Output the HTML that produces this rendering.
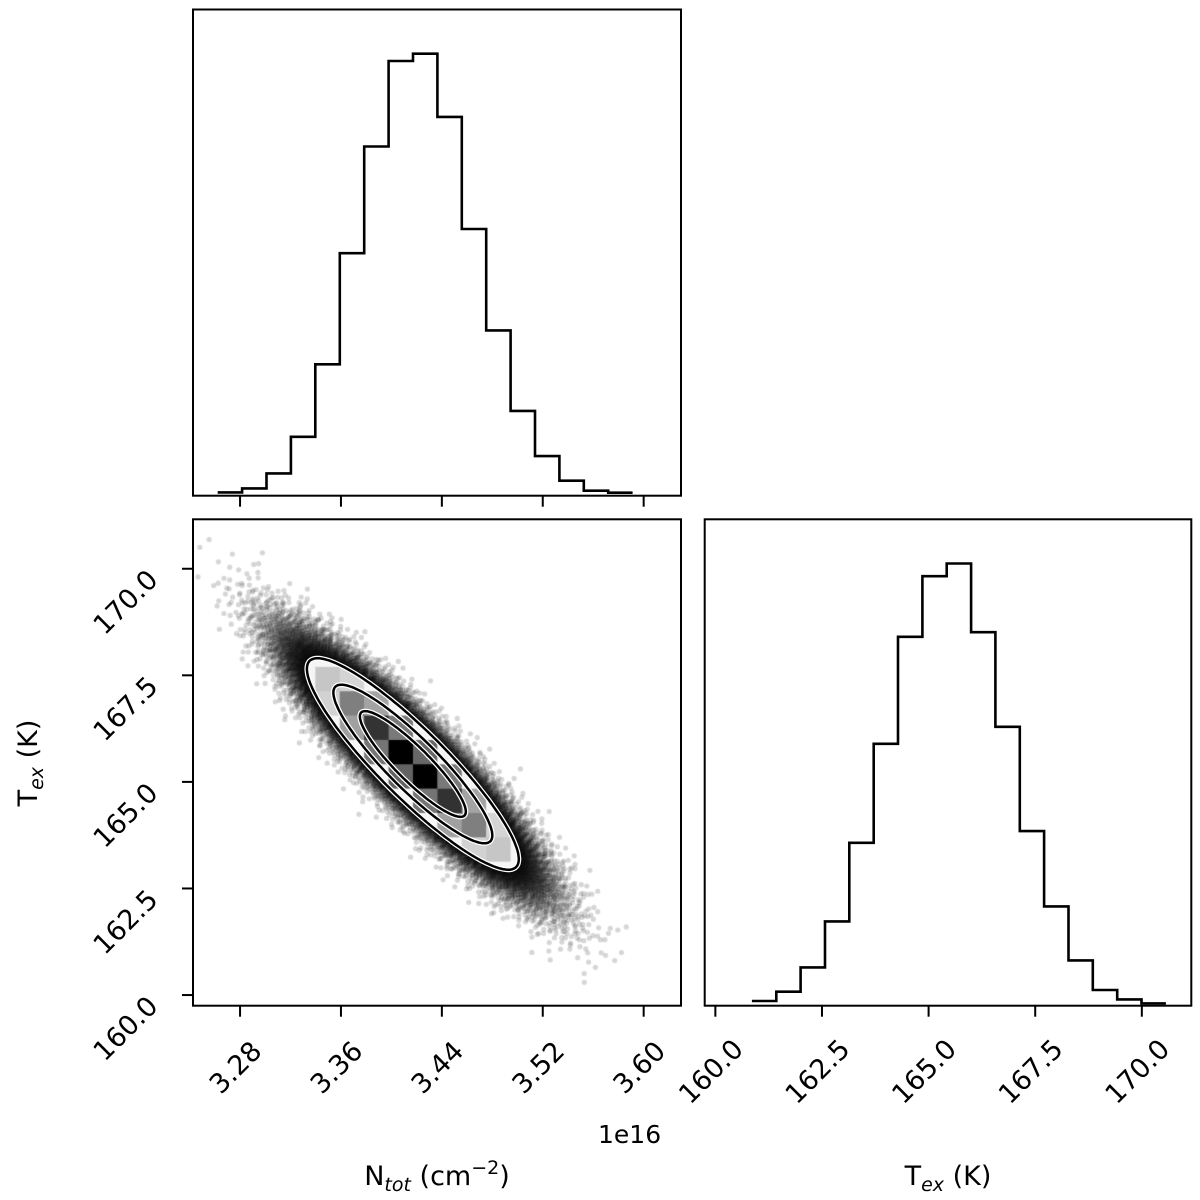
<!DOCTYPE html>
<html><head><meta charset="utf-8"><style>
html,body{margin:0;padding:0;background:#fff;}
#wrap{position:relative;width:1200px;height:1200px;overflow:hidden;}
canvas,svg{position:absolute;left:0;top:0;}
text{font-family:"DejaVu Sans","Liberation Sans",sans-serif;fill:#000;}
</style></head><body>
<div id="wrap">
<canvas id="cv" width="1200" height="1200"></canvas>
<svg id="sv" width="1200" height="1200"></svg>
</div>
<script>
// ---- data ----
const nTicks = [3.28, 3.36, 3.44, 3.52, 3.60];
const nTickLabels = ["3.28","3.36","3.44","3.52","3.60"];
const tTicks = [160.0, 162.5, 165.0, 167.5, 170.0];
const tTickLabels = ["160.0","162.5","165.0","167.5","170.0"];
const nBinStart = [3.2623];
const nBinWidth = [0.01935];
const nCounts = [10,22,67,177,395,729,1050,1307,1329,1139,802,497,255,119,45,15,9];
const tBinStart = [160.857];
const tBinWidth = [0.571];
const tCounts = [14,42,115,253,489,786,1107,1289,1327,1121,837,524,298,136,47,19,7];
const nMean = [3.417];
const tMean = [165.42];
const nSd = [0.042];
const tSd = [1.24];
const rho = [-0.90];
const sigmaLevels = [2.0, 1.5, 1.0];

// ---- layout ----
const P = {
  top: {x0:193, x1:681, y0:9.5, y1:495.7},
  bl:  {x0:193, x1:681, y0:519.3, y1:1005.7},
  br:  {x0:704.7, x1:1191.3, y0:519.3, y1:1005.7}
};
const nMin = 3.2427, nMax = 3.6296;
const tMin = 159.75, tMax = 171.16;
const xN = v => P.bl.x0 + (v - nMin) / (nMax - nMin) * (P.bl.x1 - P.bl.x0);
const yT = v => P.bl.y1 - (v - tMin) / (tMax - tMin) * (P.bl.y1 - P.bl.y0);
const xT = v => P.br.x0 + (v - tMin) / (tMax - tMin) * (P.br.x1 - P.br.x0);

const NS = "http://www.w3.org/2000/svg";
const sv = document.getElementById('sv');
function mk(tag, attrs, parent){
  const e = document.createElementNS(NS, tag);
  for (const k in attrs) e.setAttribute(k, attrs[k]);
  (parent||sv).appendChild(e);
  return e;
}

// ---- canvas: scatter + density ----
const cv = document.getElementById('cv');
const ctx = cv.getContext('2d');
function halton(i, b){ let f=1, r=0; while(i>0){ f/=b; r+=f*(i%b); i=Math.floor(i/b);} return r; }
ctx.save();
ctx.beginPath(); ctx.rect(P.bl.x0, P.bl.y0, P.bl.x1-P.bl.x0, P.bl.y1-P.bl.y0); ctx.clip();
ctx.fillStyle = 'rgba(0,0,0,0.16)';
const NPTS = 60000;
const r0 = rho[0], sq = Math.sqrt(1 - r0*r0);
for (let i = 1; i <= NPTS; i++){
  const u1 = halton(i, 2), u2 = halton(i, 3);
  const rad = Math.sqrt(-2*Math.log(Math.max(u1,1e-9)));
  const z1 = rad*Math.cos(2*Math.PI*u2), z2 = rad*Math.sin(2*Math.PI*u2);
  const nv = nMean[0] + nSd[0]*z1;
  const tv = tMean[0] + tSd[0]*(r0*z1 + sq*z2);
  ctx.beginPath(); ctx.arc(xN(nv), yT(tv), 2.6, 0, 2*Math.PI); ctx.fill();
}
function ellipsePts(s){
  const pts = [];
  for (let k = 0; k <= 180; k++){
    const a = 2*Math.PI*k/180;
    const z1 = s*Math.cos(a), z2 = s*Math.sin(a);
    const nv = nMean[0] + nSd[0]*z1;
    const tv = tMean[0] + tSd[0]*(r0*z1 + sq*z2);
    pts.push([xN(nv), yT(tv)]);
  }
  return pts;
}
const outer = ellipsePts(sigmaLevels[0]);
ctx.beginPath(); outer.forEach((p,i)=> i?ctx.lineTo(p[0],p[1]):ctx.moveTo(p[0],p[1])); ctx.closePath();
ctx.fillStyle = '#fff'; ctx.fill();
ctx.clip();
function pdfRel(nv, tv){
  const a = (nv - nMean[0])/nSd[0], b = (tv - tMean[0])/tSd[0];
  const q = (a*a - 2*r0*a*b + b*b)/(1 - r0*r0);
  return Math.exp(-q/2);
}
for (let i = 0; i < nCounts.length; i++){
  for (let j = 0; j < tCounts.length; j++){
    const na = nBinStart[0] + i*nBinWidth[0], nb = na + nBinWidth[0];
    const ta = tBinStart[0] + j*tBinWidth[0], tb = ta + tBinWidth[0];
    const f = pdfRel((na+nb)/2, (ta+tb)/2);
    let t = (f - 0.12)/0.85; t = Math.max(0, Math.min(1, t));
    const g = Math.round(245*(1 - Math.pow(t,0.9)));
    ctx.fillStyle = `rgb(${g},${g},${g})`;
    const x0 = xN(na), x1 = xN(nb), y0 = yT(tb), y1 = yT(ta);
    ctx.fillRect(x0, y0, x1-x0+0.5, y1-y0+0.5);
  }
}
ctx.restore();

// ---- contours ----
sigmaLevels.forEach((s, k) => {
  const pts = ellipsePts(s);
  const d = 'M' + pts.map(p => p[0].toFixed(1)+','+p[1].toFixed(1)).join('L') + 'Z';
  mk('path', {d, fill:'none', stroke:'#fff', 'stroke-width':5});
  const c = mk('path', {d, fill:'none', stroke:'#000', 'stroke-width':2.5});
  
  
});

// ---- histograms ----
function histPath(counts, start, width, xf, base, top){
  const mx = Math.max(...counts) * 1.1;
  const yf = c => base - c/mx*(base - top);
  let d = '';
  counts.forEach((c, i) => {
    const xa = xf(start + i*width), xb = xf(start + (i+1)*width);
    d += (i===0 ? 'M'+xa.toFixed(1)+','+yf(c).toFixed(1) : 'L'+xa.toFixed(1)+','+yf(c).toFixed(1));
    d += 'L'+xb.toFixed(1)+','+yf(c).toFixed(1);
  });
  return d;
}
const h1 = mk('path', {d: histPath(nCounts, nBinStart[0], nBinWidth[0], xN, P.top.y1, P.top.y0), fill:'none', stroke:'#000', 'stroke-width':2.6});


const h2 = mk('path', {d: histPath(tCounts, tBinStart[0], tBinWidth[0], xT, P.br.y1, P.br.y0), fill:'none', stroke:'#000', 'stroke-width':2.6});



// ---- frames ----
[['top','frame-top-panel'],['bl','frame-scatter-panel'],['br','frame-right-panel']].forEach(([k,n]) => {
  const p = P[k];
  const r = mk('rect', {x:p.x0, y:p.y0, width:p.x1-p.x0, height:p.y1-p.y0, fill:'none', stroke:'#000', 'stroke-width':2});
  
  
});

// ---- ticks ----
const TL = 11;
nTicks.forEach(v => {
  const x = xN(v);
  mk('line', {x1:x, x2:x, y1:P.top.y1, y2:P.top.y1+TL, stroke:'#000', 'stroke-width':2});
  mk('line', {x1:x, x2:x, y1:P.bl.y1, y2:P.bl.y1+TL, stroke:'#000', 'stroke-width':2});
});
tTicks.forEach(v => {
  const y = yT(v);
  mk('line', {x1:P.bl.x0-TL, x2:P.bl.x0, y1:y, y2:y, stroke:'#000', 'stroke-width':2});
  const x = xT(v);
  mk('line', {x1:x, x2:x, y1:P.br.y1, y2:P.br.y1+TL, stroke:'#000', 'stroke-width':2});
});

// ---- tick labels ----
const FS = 27;
function rotLabel(txt, cx, cy, name){
  const t = mk('text', {transform:`translate(${cx.toFixed(1)},${cy.toFixed(1)}) rotate(-45)`, 'text-anchor':'middle', 'dominant-baseline':'central', 'font-size':FS});
  t.textContent = txt;
  
  
}
nTicks.forEach((v, i) => {
  rotLabel(nTickLabels[i], xN(v) - 4, 1068, 'x-tick-label-ntot');
});
tTicks.forEach((v, i) => {
  rotLabel(tTickLabels[i], 126, yT(v) + 34, 'y-tick-label-tex');
  rotLabel(tTickLabels[i], xT(v) - 4, 1072, 'x-tick-label-tex');
});

// ---- axis labels ----
const off = mk('text', {x:598, y:1143, 'font-size':25});
off.textContent = '1e16';



const xl = mk('text', {x:437, y:1185, 'text-anchor':'middle', 'font-size':FS});


xl.innerHTML = 'N<tspan font-style="italic" font-size="19" dy="6">tot</tspan><tspan dy="-6"> (cm</tspan><tspan font-size="19" dy="-11">−2</tspan><tspan dy="11">)</tspan>';

const xl2 = mk('text', {x:948, y:1185, 'text-anchor':'middle', 'font-size':FS});


xl2.innerHTML = 'T<tspan font-style="italic" font-size="19" dy="6">ex</tspan><tspan dy="-6"> (K)</tspan>';

const yl = mk('text', {transform:'translate(37,763) rotate(-90)', 'text-anchor':'middle', 'font-size':FS});


yl.innerHTML = 'T<tspan font-style="italic" font-size="19" dy="6">ex</tspan><tspan dy="-6"> (K)</tspan>';
</script>
</body></html>
